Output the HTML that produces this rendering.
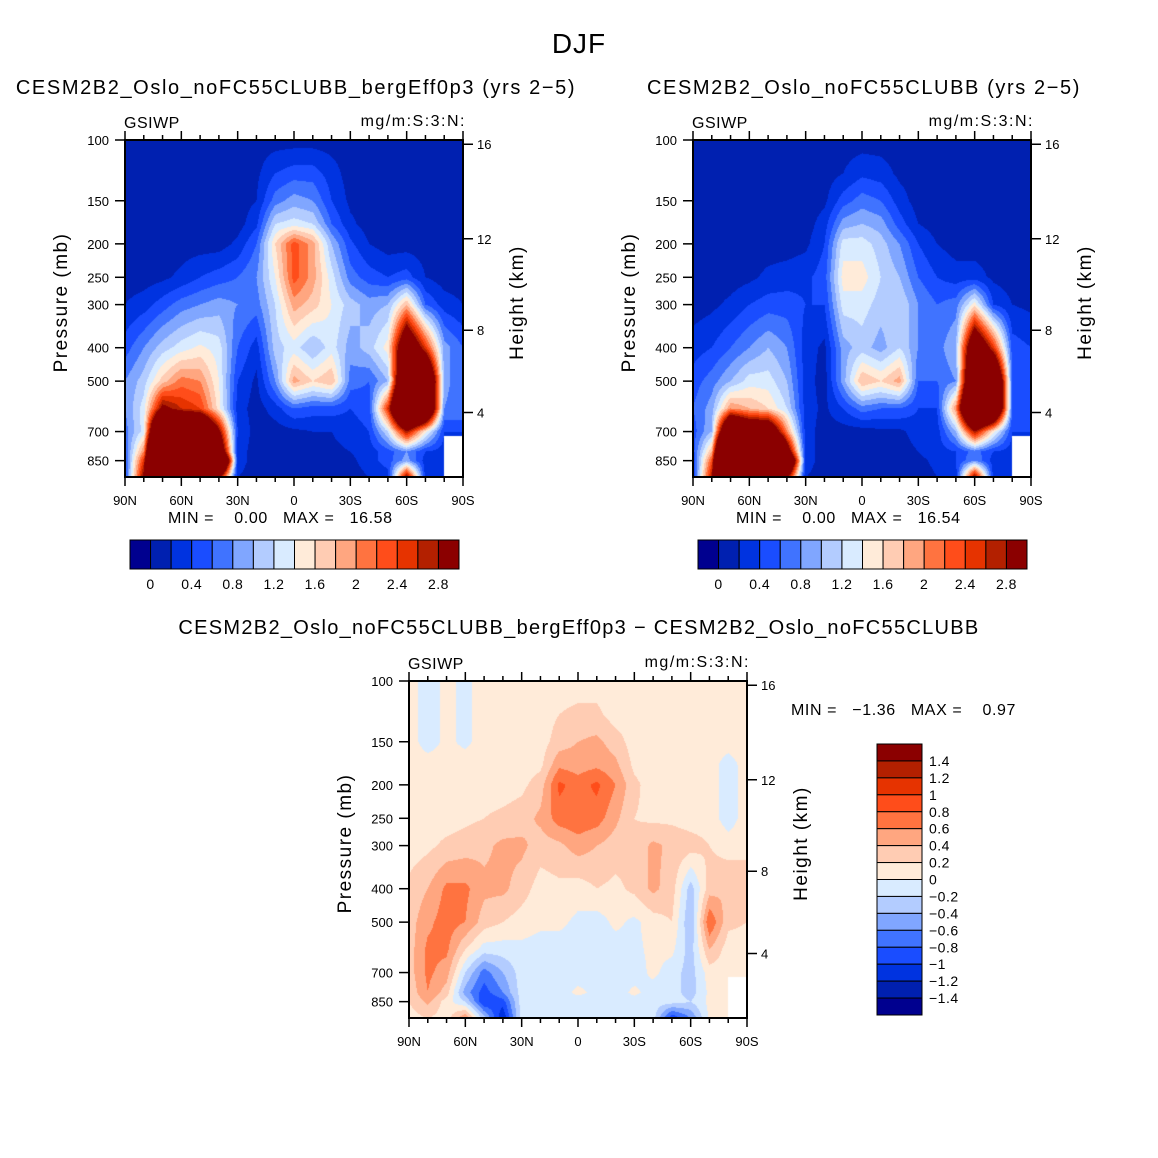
<!DOCTYPE html>
<html><head><meta charset="utf-8">
<style>
html,body{margin:0;padding:0;background:#fff;}
#root{position:relative;width:1158px;height:1158px;overflow:hidden;font-family:"Liberation Sans",sans-serif;}
canvas{position:absolute;}
svg{position:absolute;left:0;top:0;}
</style></head>
<body>
<div id="root">
<canvas id="c1" width="338" height="337" style="left:125px;top:140px"></canvas>
<canvas id="c2" width="338" height="337" style="left:693px;top:140px"></canvas>
<canvas id="c3" width="338" height="337" style="left:409px;top:681px"></canvas>
<svg id="ov" width="1158" height="1158"></svg>
</div>
<script>
const colors=["#00008f","#0020b0","#0033e0","#1a4dff","#4073ff","#80a6ff","#b3ccff","#d9ebff","#ffebd9","#ffccb3","#ffa680","#ff7340","#ff4d1a","#e63300","#b32000","#8b0000"];
const lats=[90,80,70,60,50,40,30,20,10,0,-10,-20,-30,-40,-50,-60,-70,-80,-90];
const levels=[100,125,150,175,200,250,300,400,500,600,700,800,850,950];
const pTicks=[100,150,200,250,300,400,500,700,850];
const zTicks=[16,12,8,4];
const latTicks=[90,60,30,0,-30,-60,-90];
const latTickLabels=["90N","60N","30N","0","30S","60S","90S"];
const cbLabels1=["0","0.4","0.8","1.2","1.6","2","2.4","2.8"];
const cbLabels3=["1.4","1.2","1","0.8","0.6","0.4","0.2","0","\u22120.2","\u22120.4","\u22120.6","\u22120.8","\u22121","\u22121.2","\u22121.4"];
const missingLat=-80;
const missingP=720;
const panel1Values=[
[.1,.1,.1,.1,.1,.1,.1,.1,.1,.1,.1,.1,.1,.1,.1,.1,.1,.1,.1],
[.1,.1,.1,.1,.1,.1,.1,.15,.4,.5,.5,.3,.1,.1,.1,.1,.1,.1,.1],
[.1,.1,.1,.1,.1,.1,.1,.2,.7,.9,.8,.4,.15,.1,.1,.1,.1,.1,.1],
[.1,.1,.1,.1,.1,.1,.1,.35,1.2,1.3,1.2,.6,.25,.1,.1,.1,.1,.1,.1],
[.1,.1,.1,.1,.1,.1,.25,.6,1.6,2.3,1.9,1.0,.45,.2,.1,.1,.1,.1,.1],
[.1,.1,.15,.25,.4,.5,.6,.8,1.4,2.3,1.9,1.3,.7,.5,.4,.5,.2,.1,.1],
[.2,.3,.5,.7,.8,.9,.8,.7,1.2,1.9,1.7,1.4,1.1,.9,1.0,1.8,.6,.3,.2],
[.5,.8,1.1,1.3,1.45,1.3,.6,.3,1.1,1.3,1.0,1.3,.9,1.1,1.5,4,2.5,.9,.6],
[.8,1.1,1.7,2.1,2.0,1.4,.4,.15,.8,1.9,1.6,1.8,.7,.6,1.0,5,5,.9,.6],
[.8,1.3,3.0,2.6,2.4,1.5,.3,.1,.3,.6,.5,.5,.4,.5,2.5,6,5,.8,.6],
[.7,1.3,6,5,5,3,.4,.1,.1,.15,.2,.2,.3,.4,1.2,2.8,1.5,.4,null],
[.6,2.0,8,8,8,4,.3,.1,.1,.1,.1,.15,.2,.3,.5,.8,.4,.3,null],
[.5,2.5,9,9,9,6,.3,.1,.1,.1,.1,.1,.15,.3,.5,.9,.3,.4,null],
[.4,3,9,9,9,3,.2,.1,.1,.1,.1,.1,.1,.2,.3,3,.3,.3,null]];
const panel2Values=[
[.1,.1,.1,.1,.1,.1,.1,.1,.1,.1,.1,.1,.1,.1,.1,.1,.1,.1,.1],
[.1,.1,.1,.1,.1,.1,.1,.1,.2,.35,.3,.15,.1,.1,.1,.1,.1,.1,.1],
[.1,.1,.1,.1,.1,.1,.1,.15,.5,.7,.6,.3,.1,.1,.1,.1,.1,.1,.1],
[.1,.1,.1,.1,.1,.1,.1,.3,.9,1.0,.9,.5,.2,.1,.1,.1,.1,.1,.1],
[.1,.1,.1,.1,.1,.1,.15,.4,1.3,1.3,1.1,.8,.4,.2,.1,.1,.1,.1,.1],
[.1,.1,.1,.15,.25,.3,.35,.5,1.5,1.5,1.2,1.0,.6,.4,.3,.3,.15,.1,.1],
[.1,.15,.25,.4,.5,.5,.4,.4,1.3,1.3,1.1,1.2,.8,.6,.7,1.5,.4,.2,.15],
[.3,.4,.6,.8,1.0,.8,.3,.15,.9,1.1,.9,1.2,.8,.7,1.0,4,2.5,.5,.4],
[.5,.7,1.0,1.3,1.3,1.0,.3,.1,.9,1.8,1.6,1.9,.6,.6,.8,5,5,.6,.5],
[.6,.9,2.0,1.8,1.6,1.2,.3,.15,.4,.7,.6,.6,.4,.4,2.0,6,5,.6,.5],
[.5,1.0,5,4,4,2.0,.3,.1,.1,.1,.15,.15,.3,.3,1.0,2.8,1.5,.4,null],
[.5,1.8,8,8,8,3.5,.3,.1,.1,.1,.1,.1,.2,.3,.4,.7,.4,.3,null],
[.4,2.3,9,9,9,5,.3,.1,.1,.1,.1,.1,.15,.25,.4,.8,.3,.3,null],
[.3,2.8,9,9,9,3,.2,.1,.1,.1,.1,.1,.1,.2,.3,3,.3,.3,null]];
const diffValues=[
[.1,-.1,.05,-.05,.1,.1,.1,.1,.1,.1,.1,.1,.1,.1,.1,.1,.1,.1,.1],
[.1,-.1,.05,-.05,.1,.1,.1,.1,.2,.25,.25,.1,.1,.1,.1,.1,.1,.1,.1],
[.1,-.1,.05,-.05,.1,.1,.1,.1,.3,.4,.45,.3,.1,.1,.1,.1,.1,.1,.1],
[.1,.1,.1,.1,.1,.1,.1,.15,.55,.5,.55,.45,.15,.1,.1,.1,.1,-.1,.1],
[.1,.1,.1,.1,.1,.1,.15,.3,.85,.7,.85,.6,.25,.1,.1,.1,.1,-.1,.1],
[.1,.1,.1,.15,.2,.25,.3,.45,.7,.75,.7,.45,.2,.15,.15,.1,.1,-.1,.1],
[.1,.15,.25,.3,.35,.45,.45,.3,.35,.5,.4,.3,.25,.45,.35,.3,.2,.1,.1],
[.25,.4,.65,.65,.45,.45,.3,.1,.15,.1,.2,.15,.25,.45,.3,-.3,.3,.4,.4],
[.3,.55,.7,.6,.3,.2,.1,.05,.05,-.05,-.1,.05,-.05,.1,.2,-.4,.8,.25,.2],
[.3,.65,.65,.2,-.1,-.1,-.05,-.1,-.1,-.1,-.1,-.1,-.05,.05,.05,-.3,.4,.1,.1],
[.3,.65,.5,-.2,-.7,-.4,-.1,-.1,-.1,-.1,-.1,-.1,-.1,.05,-.1,-.3,.1,.1,null],
[.25,.6,.3,-.5,-.9,-.6,-.1,-.1,-.1,.05,-.05,-.1,.05,-.1,-.1,-.3,.05,.1,null],
[.2,.45,.1,-.2,-1.0,-.9,-.1,-.1,-.1,-.1,-.1,-.1,-.1,-.1,-.1,-.2,.05,.1,null],
[.1,.2,.1,.6,-.3,-1.2,-.1,-.1,-.1,-.1,-.1,-.1,-.1,-.1,-1.0,-.6,.05,.1,null]];

const PW=338,PH=337,DEC=345;
function yOfP(p,top){return top+DEC*Math.log10(p/100);}
function xOfLat(lat,left){return left+(90-lat)/180*PW;}
function pOfZ(zkm){const z=zkm*1000;return z<=11000?1013.25*Math.pow(1-2.25577e-5*z,5.25588):226.32*Math.exp(-(z-11000)/6341.6);}
function hex(c){return [parseInt(c.substr(1,2),16),parseInt(c.substr(3,2),16),parseInt(c.substr(5,2),16)];}
const rgb=colors.map(hex);
function idxAbs(v){return v<0?0:Math.min(15,Math.floor(v/0.2+1e-9)+1);}
function idxDiff(v){return Math.max(0,Math.min(15,Math.floor(v/0.2+1e-9)+8));}

function drawField(id,vals,idxFn){
  const cv=document.getElementById(id),ctx=cv.getContext('2d');
  const img=ctx.createImageData(PW,PH);
  const logL=levels.map(p=>Math.log10(p));
  for(let py=0;py<PH;py++){
    const lp=Math.log10(100)+(py+0.5)/DEC;
    const p=Math.pow(10,lp);
    let r=0;while(r<levels.length-2&&lp>logL[r+1])r++;
    let fy=(lp-logL[r])/(logL[r+1]-logL[r]);fy=Math.max(0,Math.min(1,fy));
    for(let px=0;px<PW;px++){
      const lat=90-(px+0.5)/PW*180;
      let fc=(90-lat)/10;let c=Math.min(17,Math.floor(fc));let fx=fc-c;
      const o=(py*PW+px)*4;
      if(lat<missingLat&&p>missingP){img.data[o]=255;img.data[o+1]=255;img.data[o+2]=255;img.data[o+3]=255;continue;}
      const q=[[vals[r][c],(1-fx)*(1-fy)],[vals[r][c+1],fx*(1-fy)],[vals[r+1][c],(1-fx)*fy],[vals[r+1][c+1],fx*fy]];
      let s=0,w=0;for(const [v,ww] of q){if(v!==null){s+=v*ww;w+=ww;}}
      const col=rgb[idxFn(w>0?s/w:0)];
      img.data[o]=col[0];img.data[o+1]=col[1];img.data[o+2]=col[2];img.data[o+3]=255;
    }
  }
  ctx.putImageData(img,0,0);
}
drawField('c1',panel1Values,idxAbs);
drawField('c2',panel2Values,idxAbs);
drawField('c3',diffValues,idxDiff);

const NS="http://www.w3.org/2000/svg";
const ov=document.getElementById('ov');
function el(tag,attrs,parent){const e=document.createElementNS(NS,tag);for(const k in attrs)e.setAttribute(k,attrs[k]);(parent||ov).appendChild(e);return e;}
function txt(x,y,s,size,anchor,name,extra){
  const t=el('text',Object.assign({x:x,y:y,'font-size':size,'text-anchor':anchor||'start','font-family':'Liberation Sans, sans-serif',fill:'#000'},extra||{}));
  t.textContent=s;
  
  
  return t;
}
function axes(left,top,title,tx,minmax,mmx,mmy){
  const g=el('g',{});
  
  
  if(title) txt(tx,94,title,20,'middle','panel-title',{'letter-spacing':'1.6'});
  txt(left-1,top-12,'GSIWP',16,'start','variable-label',{'letter-spacing':'0.5'});
  txt(left+PW+3,top-14,'mg/m:S:3:N:',16,'end','units-label',{'letter-spacing':'1.5'});
  const fr=el('rect',{x:left,y:top,width:PW,height:PH,fill:'none',stroke:'#000','stroke-width':2},g);
  
  
  for(let lat=90;lat>=-90;lat-=10){
    const x=xOfLat(lat,left),L=(lat%30===0)?9:5;
    el('line',{x1:x,x2:x,y1:top,y2:top-L,stroke:'#000','stroke-width':1.5},g);
    el('line',{x1:x,x2:x,y1:top+PH,y2:top+PH+L,stroke:'#000','stroke-width':1.5},g);
  }
  latTicks.forEach((lat,i)=>txt(xOfLat(lat,left),top+PH+28,latTickLabels[i],13,'middle','x-tick-label'));
  pTicks.forEach(p=>{const y=yOfP(p,top);
    el('line',{x1:left,x2:left-10,y1:y,y2:y,stroke:'#000','stroke-width':1.5},g);
    txt(left-16,y+5,String(p),13,'end','y-tick-label');});
  zTicks.forEach(z=>{const y=yOfP(pOfZ(z),top);
    el('line',{x1:left+PW,x2:left+PW+10,y1:y,y2:y,stroke:'#000','stroke-width':1.5},g);
    txt(left+PW+14,y+5,String(z),13,'start','right-tick-label');});
  txt(0,0,'Pressure (mb)',19,'middle','y-axis-title',{transform:`translate(${left-58},${top+PH/2-6}) rotate(-90)`,'letter-spacing':'1.5'});
  txt(0,0,'Height (km)',19,'middle','right-axis-title',{transform:`translate(${left+PW+60},${top+PH/2-6}) rotate(-90)`,'letter-spacing':'1.5'});
  txt(mmx,mmy,minmax,16,'start','min-max-label',{'letter-spacing':'0.6'});
}
txt(579,53,'DJF',28,'middle','figure-title',{'letter-spacing':'1'});
axes(125,140,'CESM2B2_Oslo_noFC55CLUBB_bergEff0p3 (yrs 2\u22125)',296,'MIN =    0.00   MAX =   16.58',168,523);
axes(693,140,'CESM2B2_Oslo_noFC55CLUBB (yrs 2\u22125)',864,'MIN =    0.00   MAX =   16.54',736,523);
txt(579,634,'CESM2B2_Oslo_noFC55CLUBB_bergEff0p3 \u2212 CESM2B2_Oslo_noFC55CLUBB',20,'middle','difference-title',{'letter-spacing':'1.3'});
axes(409,681,null,0,'MIN =   \u22121.36   MAX =    0.97',791,715);
document.querySelectorAll('text').forEach(t=>t.style.whiteSpace='pre');

function hbar(left,top,w,h){
  const bw=w/16;
  colors.forEach((c,i)=>{const r=el('rect',{x:left+i*bw,y:top,width:bw,height:h,fill:c,stroke:'#000','stroke-width':1});
    
    });
  cbLabels1.forEach((s,i)=>txt(left+(1+2*i)*bw,top+h+20,s,14,'middle','colorbar-label',{'letter-spacing':'0.5'}));
}
hbar(130,540,329,29);
hbar(698,540,329,29);
(function(){const left=877,top=744,w=45,h=271,bh=h/16;
  colors.slice().reverse().forEach((c,i)=>{const r=el('rect',{x:left,y:top+i*bh,width:w,height:bh,fill:c,stroke:'#000','stroke-width':1});
    
    });
  cbLabels3.forEach((s,i)=>txt(left+52,top+(i+1)*bh+5,s,14,'start','diff-colorbar-label',{'letter-spacing':'0.5'}));
})();
</script>
</body></html>
